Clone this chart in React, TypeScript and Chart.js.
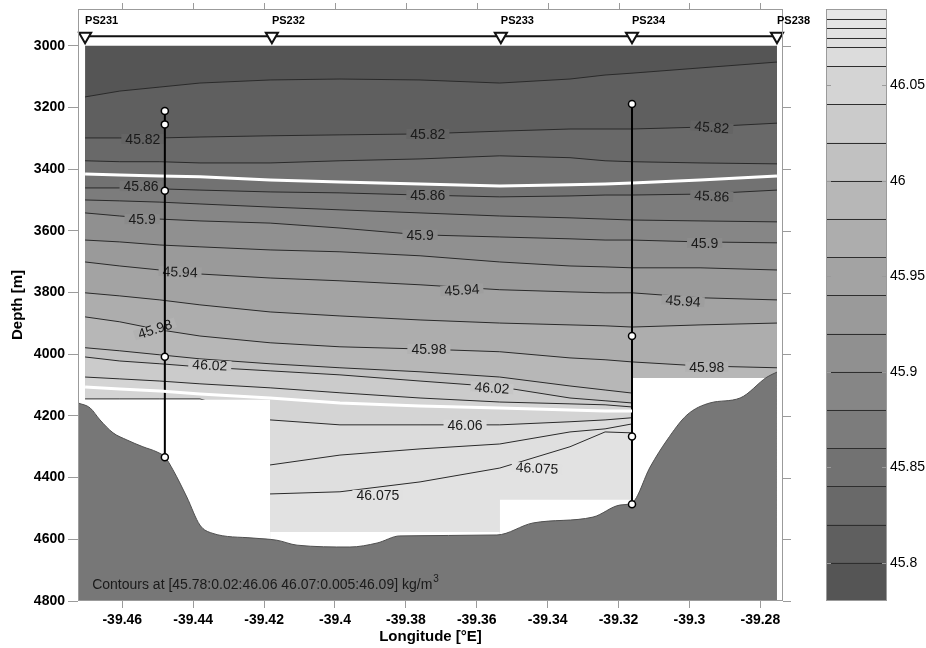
import React, { useEffect, useRef } from 'react';
import { Chart, registerables } from 'chart.js';

Chart.register(...registerables);

const FONT = "'Liberation Sans', Arial, Helvetica, sans-serif";
const FRAME = '#9b9b9b';

// ---------- axes ----------
const X_MIN = -39.4725;
const X_MAX = -39.2736;
const Y_MIN = 2881;
const Y_MAX = 4800;
const DATA_TOP = 3000;
const xTicks = [-39.46, -39.44, -39.42, -39.4, -39.38, -39.36, -39.34, -39.32, -39.3, -39.28];
const yTicks = [3000, 3200, 3400, 3600, 3800, 4000, 4200, 4400, 4600, 4800];

// ---------- colour bar ----------
const CB_MIN = 45.78;
const CB_MAX = 46.09;
const cbLevels = [45.78, 45.8, 45.82, 45.84, 45.86, 45.88, 45.9, 45.92, 45.94, 45.96, 45.98, 46.0, 46.02, 46.04, 46.06, 46.07, 46.075, 46.08, 46.085, 46.09];
const cbTicks = [45.8, 45.85, 45.9, 45.95, 46.0, 46.05];

// ---------- stations ----------
const stationNames = ['PS231', 'PS232', 'PS233', 'PS234', 'PS238'];
const stationLon = [-39.4705, -39.4178, -39.3532, -39.3162, -39.2753];
const stationLineDepth = 2969;
const stationLabelDepth = 2920;

// ---------- isopycnal depths (m) along the section ----------
const gridLon = [-39.4705, -39.4607, -39.4494, -39.4381, -39.4183, -39.3986, -39.376, -39.3535, -39.3337, -39.3238, -39.3162, -39.297, -39.2753];
const iso45_80 = [3166, 3147, 3134, 3121, 3111, 3108, 3111, 3121, 3108, 3095, 3089, 3072, 3053];
const iso45_82 = [3299, 3299, 3299, 3296, 3292, 3289, 3286, 3277, 3270, 3270, 3270, 3264, 3251];
const iso45_84 = [3373, 3376, 3376, 3380, 3380, 3373, 3367, 3357, 3363, 3373, 3376, 3380, 3383];
const iso45_86 = [3461, 3461, 3464, 3468, 3474, 3477, 3484, 3490, 3487, 3484, 3484, 3481, 3468];
const iso45_88 = [3500, 3503, 3507, 3513, 3523, 3532, 3542, 3552, 3558, 3562, 3565, 3568, 3571];
const iso45_90 = [3542, 3552, 3562, 3568, 3575, 3591, 3613, 3620, 3626, 3630, 3630, 3636, 3639];
const iso45_92 = [3630, 3636, 3646, 3652, 3662, 3668, 3681, 3701, 3714, 3717, 3720, 3720, 3727];
const iso45_94 = [3701, 3714, 3727, 3740, 3753, 3762, 3775, 3791, 3798, 3801, 3801, 3817, 3824];
const iso45_96 = [3801, 3811, 3824, 3840, 3863, 3876, 3889, 3899, 3905, 3908, 3912, 3905, 3899];
const iso45_98 = [3879, 3895, 3921, 3941, 3963, 3976, 3983, 3992, 4012, 4018, 4025, 4038, 4044];
const iso46_00 = [3979, 3989, 4002, 4015, 4031, 4044, 4057, 4074, 4103, 4116, 4126, 4130, 4130];
const iso46_02 = [4009, 4022, 4031, 4041, 4054, 4067, 4087, 4106, 4142, 4151, 4158, 4160, 4160];
const iso46_04 = [4074, 4080, 4087, 4096, 4109, 4125, 4142, 4155, 4161, 4164, 4171, 4175, 4175];
const iso46_06 = [4145, 4145, 4145, 4145, 4213, 4229, 4229, 4229, 4219, 4213, 4206, 4210, 4210];
const iso46_07 = [4375, 4375, 4375, 4375, 4359, 4327, 4307, 4291, 4252, 4242, 4226, 4226, 4226];
const iso46_075 = [4472, 4472, 4472, 4472, 4453, 4446, 4414, 4369, 4300, 4252, 4255, 4255, 4255];

const isoLevels = [45.8, 45.82, 45.84, 45.86, 45.88, 45.9, 45.92, 45.94, 45.96, 45.98, 46.0, 46.02, 46.04, 46.06, 46.07, 46.075];
const isoDepths = [iso45_80, iso45_82, iso45_84, iso45_86, iso45_88, iso45_90, iso45_92, iso45_94, iso45_96, iso45_98, iso46_00, iso46_02, iso46_04, iso46_06, iso46_07, iso46_075];

// ---------- highlighted (white) isopycnals ----------
const whiteLine1Depth = [3416, 3419, 3422, 3425, 3435, 3442, 3448, 3455, 3451, 3448, 3445, 3435, 3422];
const whiteLine2Depth = [4106, 4113, 4119, 4129, 4142, 4158, 4168, 4174, 4181, 4184, 4184];

// ---------- no-data areas ----------
const gapLonStart = [-39.4725, -39.4183, -39.3535, -39.3162];
const gapLonEnd = [-39.4183, -39.3535, -39.3162, -39.2753];
const gapTopDepth = [4148, 4576, 4472, 4077];

// ---------- bathymetry ----------
const bathyLon = [-39.4725, -39.4691, -39.4663, -39.4626, -39.4587, -39.4542, -39.4502, -39.448, -39.4457, -39.4418, -39.4381, -39.4347, -39.4231, -39.4164, -39.4107, -39.3958, -39.3881, -39.3817, -39.3543, -39.3441, -39.3272, -39.3196, -39.3162, -39.3111, -39.3063, -39.3007, -39.2942, -39.2857, -39.2781, -39.2753];
const bathyDepth = [4158, 4174, 4213, 4255, 4278, 4300, 4317, 4333, 4375, 4463, 4554, 4580, 4596, 4603, 4619, 4625, 4612, 4589, 4586, 4547, 4528, 4489, 4482, 4366, 4278, 4197, 4158, 4142, 4074, 4058];

// ---------- CTD casts ----------
const cast1Lon = -39.448;
const cast1Depths = [3212, 3255, 3470, 4008, 4334];
const cast2Lon = -39.3162;
const cast2Depths = [3189, 3941, 4267, 4486];

// ---------- contour labels ----------
const labelText = ['45.82', '45.82', '45.82', '45.86', '45.86', '45.86', '45.9', '45.9', '45.9', '45.94', '45.94', '45.94', '45.98', '45.98', '45.98', '46.02', '46.02', '46.06', '46.075', '46.075'];
const labelLon = [-39.4542, -39.3738, -39.2937, -39.4547, -39.3738, -39.2937, -39.4544, -39.376, -39.2957, -39.4437, -39.3642, -39.3018, -39.4508, -39.3735, -39.2951, -39.4353, -39.3557, -39.3633, -39.3879, -39.343];
const labelDepth = [3302, 3286, 3264, 3455, 3484, 3487, 3562, 3613, 3639, 3733, 3791, 3827, 3918, 3983, 4041, 4035, 4109, 4229, 4456, 4369];
const labelAngle = [0, 0, 5, 0, 0, 3, 0, 0, 0, 2, -4, 4, -18, 0, 0, 3, 4, 0, 0, 3];

const noteText = 'Contours at [45.78:0.02:46.06 46.07:0.005:46.09] kg/m';
const noteLon = -39.4685;
const noteDepth = 4748;

function grayOf(v: number): string {
  const t = (v - CB_MIN) / (CB_MAX - CB_MIN);
  const g = Math.round(80 + 152 * t);
  return `rgb(${g},${g},${g})`;
}

function bandColorBelow(level: number): string {
  const i = cbLevels.findIndex((l) => Math.abs(l - level) < 1e-9);
  return grayOf((cbLevels[i] + cbLevels[i + 1]) / 2);
}

const pts = (lons: number[], depths: number[]) => depths.map((d, i) => ({ x: lons[i], y: d }));
const TRANSPARENT = 'rgba(0,0,0,0)';

function buildMainDatasets() {
  const ds: any[] = [];
  ds.push({
    data: pts(gridLon, gridLon.map(() => DATA_TOP)),
    showLine: true,
    borderColor: TRANSPARENT,
    borderWidth: 0,
    backgroundColor: grayOf((cbLevels[0] + cbLevels[1]) / 2),
    fill: { value: Y_MAX },
    pointRadius: 0,
    order: 1000,
  });
  isoLevels.forEach((lvl, k) => {
    ds.push({
      data: pts(gridLon, isoDepths[k]),
      showLine: true,
      borderColor: '#2a2a2a',
      borderWidth: 1,
      backgroundColor: bandColorBelow(lvl),
      fill: { value: Y_MAX },
      pointRadius: 0,
      tension: 0,
      order: 999 - k,
    });
  });
  gapLonStart.forEach((s, i) => {
    ds.push({
      data: [{ x: s, y: gapTopDepth[i] }, { x: gapLonEnd[i], y: gapTopDepth[i] }],
      showLine: true,
      borderColor: TRANSPARENT,
      borderWidth: 0,
      backgroundColor: '#ffffff',
      fill: { value: Y_MAX },
      pointRadius: 0,
      order: 500,
    });
  });
  ds.push({
    data: pts(bathyLon, bathyDepth),
    showLine: true,
    borderColor: '#505050',
    borderWidth: 1,
    backgroundColor: '#777777',
    fill: { value: Y_MAX },
    pointRadius: 0,
    cubicInterpolationMode: 'monotone',
    order: 400,
  });
  ds.push({
    data: pts(gridLon, whiteLine1Depth),
    showLine: true,
    borderColor: '#ffffff',
    borderWidth: 3,
    fill: false,
    pointRadius: 0,
    order: 300,
  });
  [[cast1Lon, cast1Depths], [cast2Lon, cast2Depths]].forEach(([lon, depths]: any) => {
    ds.push({
      data: depths.map((d: number) => ({ x: lon, y: d })),
      showLine: true,
      borderColor: '#000000',
      borderWidth: 2,
      fill: false,
      pointRadius: 3.5,
      pointStyle: 'circle',
      pointBackgroundColor: '#ffffff',
      pointBorderColor: '#000000',
      pointBorderWidth: 1.5,
      order: 200,
    });
  });
  ds.push({
    data: pts(gridLon.slice(0, whiteLine2Depth.length), whiteLine2Depth),
    showLine: true,
    borderColor: '#ffffff',
    borderWidth: 3,
    fill: false,
    pointRadius: 0,
    order: 150,
  });
  ds.push({
    data: stationLon.map((x) => ({ x, y: stationLineDepth })),
    showLine: true,
    borderColor: '#111111',
    borderWidth: 2,
    fill: false,
    pointStyle: 'triangle',
    rotation: 180,
    pointRadius: 7,
    pointBackgroundColor: '#ffffff',
    pointBorderColor: '#111111',
    pointBorderWidth: 2,
    clip: false,
    order: 100,
  });
  return ds;
}

const labelPlugin = {
  id: 'isoLabels',
  afterDatasetDraw(chart: any, args: any) {
    if (args.index !== isoLevels.length) return;
    const { ctx, scales } = chart;
    const x = scales.x;
    const y = scales.y;
    ctx.save();
    ctx.font = `14px ${FONT}`;
    ctx.textAlign = 'center';
    ctx.textBaseline = 'middle';
    labelText.forEach((t, i) => {
      const px = x.getPixelForValue(labelLon[i]);
      const py = y.getPixelForValue(labelDepth[i]);
      const w = ctx.measureText(t).width;
      ctx.save();
      ctx.translate(px, py);
      ctx.rotate((labelAngle[i] * Math.PI) / 180);
      ctx.fillStyle = grayOf(parseFloat(t));
      ctx.fillRect(-w / 2 - 4, -5, w + 8, 10);
      ctx.fillStyle = '#1a1a1a';
      ctx.fillText(t, 0, 1);
      ctx.restore();
    });
    ctx.restore();
  },
};

const framePlugin = {
  id: 'mainFrame',
  afterDraw(chart: any) {
    const { ctx, chartArea: a, scales } = chart;
    const x = scales.x;
    const y = scales.y;
    ctx.save();
    ctx.strokeStyle = FRAME;
    ctx.lineWidth = 1;
    ctx.strokeRect(a.left + 0.5, a.top + 0.5, a.right - a.left - 1, a.bottom - a.top - 1);
    ctx.beginPath();
    xTicks.forEach((v) => {
      const px = Math.round(x.getPixelForValue(v)) + 0.5;
      ctx.moveTo(px, a.top);
      ctx.lineTo(px, a.top - 6);
    });
    yTicks.forEach((v) => {
      const py = Math.round(y.getPixelForValue(v)) + 0.5;
      ctx.moveTo(a.right, py);
      ctx.lineTo(a.right + 8, py);
    });
    ctx.stroke();

    ctx.fillStyle = '#000';
    ctx.font = `bold 11px ${FONT}`;
    ctx.textAlign = 'left';
    ctx.textBaseline = 'middle';
    stationNames.forEach((n, i) => {
      ctx.fillText(n, x.getPixelForValue(stationLon[i]), y.getPixelForValue(stationLabelDepth));
    });

    ctx.fillStyle = '#1a1a1a';
    ctx.font = `14px ${FONT}`;
    const nx = x.getPixelForValue(noteLon);
    const ny = y.getPixelForValue(noteDepth);
    ctx.fillText(noteText, nx, ny);
    const w = ctx.measureText(noteText).width;
    ctx.font = `10px ${FONT}`;
    ctx.fillText('3', nx + w + 1, ny - 6);
    ctx.restore();
  },
};

const cbPlugin = {
  id: 'cbFrame',
  afterDraw(chart: any) {
    const { ctx, chartArea: a, scales } = chart;
    const y = scales.y;
    ctx.save();
    ctx.lineWidth = 1;
    ctx.strokeStyle = '#2e2e2e';
    ctx.beginPath();
    cbLevels.slice(1, -1).forEach((v) => {
      const py = Math.round(y.getPixelForValue(v)) + 0.5;
      ctx.moveTo(a.left, py);
      ctx.lineTo(a.right, py);
    });
    ctx.stroke();
    ctx.strokeStyle = FRAME;
    ctx.strokeRect(a.left + 0.5, a.top + 0.5, a.right - a.left - 1, a.bottom - a.top - 1);
    ctx.beginPath();
    cbTicks.forEach((v) => {
      const py = Math.round(y.getPixelForValue(v)) + 0.5;
      ctx.moveTo(a.left, py);
      ctx.lineTo(a.left + 5, py);
      ctx.moveTo(a.right, py);
      ctx.lineTo(a.right - 5, py);
    });
    ctx.stroke();
    ctx.restore();
  },
};

const fmt = (v: any) => String(Number(Number(v).toFixed(3)));

export default function App() {
  const mainRef = useRef<HTMLCanvasElement>(null);
  const barRef = useRef<HTMLCanvasElement>(null);

  useEffect(() => {
    Chart.defaults.font.family = FONT;
    Chart.defaults.color = '#000';

    const main = new Chart(mainRef.current as HTMLCanvasElement, {
      type: 'scatter',
      data: { datasets: buildMainDatasets() },
      options: {
        animation: false,
        responsive: false,
        events: [],
        layout: { padding: { top: 9, right: 143, left: 0, bottom: 0 } },
        plugins: { legend: { display: false }, tooltip: { enabled: false } },
        scales: {
          x: {
            type: 'linear',
            min: X_MIN,
            max: X_MAX,
            afterBuildTicks: (s: any) => {
              s.ticks = xTicks.map((v) => ({ value: v }));
            },
            afterFit: (s: any) => {
              s.height = 47;
              s.paddingLeft = 0;
              s.paddingRight = 0;
            },
            grid: { drawOnChartArea: false, drawTicks: true, tickLength: 7, color: FRAME },
            border: { display: false },
            ticks: {
              autoSkip: false,
              maxRotation: 0,
              padding: 4,
              color: '#000',
              font: { size: 14, weight: 'bold' },
              callback: (v: any) => String(Number(Number(v).toFixed(2))),
            },
            title: {
              display: true,
              text: 'Longitude [°E]',
              color: '#000',
              font: { size: 15, weight: 'bold' },
              padding: { top: 0, bottom: 2 },
            },
          },
          y: {
            type: 'linear',
            reverse: true,
            min: Y_MIN,
            max: Y_MAX,
            afterBuildTicks: (s: any) => {
              s.ticks = yTicks.map((v) => ({ value: v }));
            },
            afterFit: (s: any) => {
              s.width = 78;
              s.paddingTop = 0;
              s.paddingBottom = 0;
            },
            grid: { drawOnChartArea: false, drawTicks: true, tickLength: 10, color: FRAME },
            border: { display: false },
            ticks: {
              padding: 3,
              color: '#000',
              font: { size: 14, weight: 'bold' },
              callback: (v: any) => String(v),
            },
            title: {
              display: true,
              text: 'Depth [m]',
              color: '#000',
              font: { size: 15, weight: 'bold' },
              padding: { top: 9, bottom: 0 },
            },
          },
        },
      } as any,
      plugins: [labelPlugin, framePlugin],
    });

    const bar = new Chart(barRef.current as HTMLCanvasElement, {
      type: 'bar',
      data: {
        labels: [''],
        datasets: cbLevels.slice(0, -1).map((lo, i) => ({
          data: [[lo, cbLevels[i + 1]]],
          backgroundColor: grayOf((lo + cbLevels[i + 1]) / 2),
          borderWidth: 0,
          grouped: false,
          barPercentage: 1,
          categoryPercentage: 1,
        })),
      } as any,
      options: {
        animation: false,
        responsive: false,
        events: [],
        layout: { padding: { left: 26, top: 9, bottom: 47, right: 0 } },
        plugins: { legend: { display: false }, tooltip: { enabled: false } },
        scales: {
          x: { display: false },
          y: {
            type: 'linear',
            position: 'right',
            min: CB_MIN,
            max: CB_MAX,
            afterBuildTicks: (s: any) => {
              s.ticks = cbTicks.map((v) => ({ value: v }));
            },
            afterFit: (s: any) => {
              s.width = 39;
              s.paddingTop = 0;
              s.paddingBottom = 0;
            },
            grid: { display: false, drawTicks: false, tickLength: 0 },
            border: { display: false },
            ticks: { padding: 3, color: '#000', font: { size: 14 }, callback: fmt },
          },
        },
      } as any,
      plugins: [cbPlugin],
    });

    return () => {
      main.destroy();
      bar.destroy();
    };
  }, []);

  return (
    <div style={{ position: 'absolute', left: 0, top: 0, width: 926, height: 648, background: '#fff' }}>
      <canvas ref={mainRef} width={926} height={648} style={{ position: 'absolute', left: 0, top: 0, width: 926, height: 648 }} />
      <canvas ref={barRef} width={126} height={648} style={{ position: 'absolute', left: 800, top: 0, width: 126, height: 648 }} />
    </div>
  );
}
